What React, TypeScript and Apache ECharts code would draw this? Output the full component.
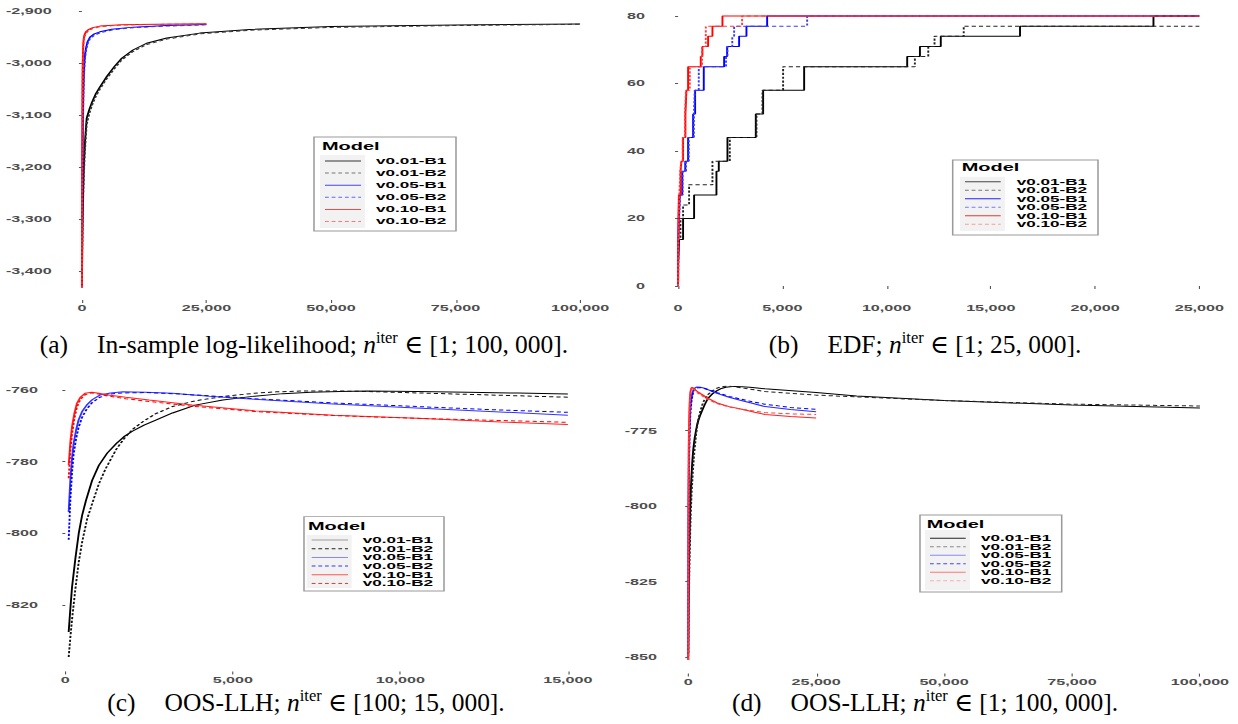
import React, { useEffect, useRef } from 'react';
import * as echarts from 'echarts';

// The plot panels are rendered narrow and widened with a CSS scaleX.
const SX = 1.9;
const PANEL_W = 619;
const PANEL_H = 362;
const SANS = 'Liberation Sans, Arial, Helvetica, sans-serif';
const SERIF = 'Liberation Serif, DejaVu Serif, Times New Roman, serif';

type Pt = [number, number];

const modelNames = ['v0.01-B1', 'v0.01-B2', 'v0.05-B1', 'v0.05-B2', 'v0.10-B1', 'v0.10-B2'];

// (a) In-sample log-likelihood: [iteration, value]
const insV001B1: Pt[] = [[1, -3430], [50, -3370], [120, -3310], [250, -3245], [400, -3195], [600, -3155], [800, -3127], [962, -3106], [1500, -3089], [2000, -3076], [2800, -3059], [3627, -3046], [5000, -3026], [6500, -3007], [8000, -2991], [10240, -2975], [13000, -2962], [17050, -2952], [23670, -2942.5], [33690, -2935.5], [50000, -2930], [75000, -2927], [100000, -2925]];
const insV001B2: Pt[] = [[1, -3432], [50, -3380], [120, -3325], [250, -3262], [400, -3212], [600, -3170], [800, -3140], [962, -3118], [1500, -3097], [2000, -3082], [2800, -3064], [3627, -3050], [5000, -3030], [6500, -3011], [8000, -2994], [10240, -2978], [13000, -2964.5], [17050, -2954], [23670, -2944], [33690, -2937], [50000, -2931.5], [75000, -2928], [100000, -2925.5]];
const insV005B1: Pt[] = [[1, -3430], [25, -3370], [50, -3310], [100, -3225], [150, -3160], [220, -3095], [300, -3050], [400, -3018], [500, -2998], [650, -2982], [800, -2972], [1100, -2960], [1623, -2950], [2500, -2944], [3627, -2940], [6000, -2935], [10300, -2931], [17000, -2928], [25000, -2926]];
const insV005B2: Pt[] = [[1, -3432], [25, -3385], [50, -3330], [100, -3245], [150, -3180], [220, -3112], [300, -3065], [400, -3030], [500, -3008], [650, -2990], [800, -2978], [1100, -2964], [1623, -2953], [2500, -2946.5], [3627, -2942], [6000, -2936.5], [10300, -2932], [17000, -2929], [25000, -2926.5]];
const insV010B1: Pt[] = [[1, -3430], [15, -3340], [30, -3250], [50, -3170], [80, -3100], [110, -3050], [150, -3010], [200, -2985], [250, -2968], [350, -2954], [500, -2946], [800, -2940], [1290, -2936], [2200, -2932], [3627, -2929], [8000, -2926.5], [15000, -2925.3], [25000, -2924.5]];
const insV010B2: Pt[] = [[1, -3432], [15, -3355], [30, -3270], [50, -3190], [80, -3120], [110, -3066], [150, -3022], [200, -2993], [250, -2975], [350, -2959], [500, -2950], [800, -2943], [1290, -2938], [2200, -2933.5], [3627, -2930], [8000, -2927], [15000, -2925.8], [25000, -2925]];

// (b) EDF: [iteration, value] (step changes)
const edfV001B1: Pt[] = [[1, 6.9], [50, 13.8], [241, 20], [769, 27], [1841, 34], [1953, 37], [2369, 44], [3728, 51], [4080, 58], [6047, 65], [10989, 68], [11600, 71], [12600, 74], [16400, 77], [22800, 80], [25000, 80]];
const edfV001B2: Pt[] = [[1, 0], [8, 6.9], [20, 13.8], [114, 20], [241, 24], [529, 30], [1649, 37], [2481, 44], [3760, 51], [4048, 58], [5038, 65], [11357, 68], [12000, 71], [12300, 74], [13700, 77], [25000, 77]];
const edfV005B1: Pt[] = [[1, 0], [10, 13.8], [40, 20], [82, 27], [200, 34], [345, 37], [482, 44], [722, 51], [818, 58], [1233, 65], [2209, 68], [2353, 71], [2928, 74], [3280, 77], [4272, 80], [25000, 80]];
const edfV005B2: Pt[] = [[1, 0], [15, 13.8], [50, 20], [100, 27], [220, 34], [380, 37], [515, 44], [760, 51], [802, 58], [993, 65], [2300, 68], [2369, 71], [2600, 74], [2689, 77], [6191, 80], [25000, 80]];
const edfV010B1: Pt[] = [[1, 0], [3, 6.9], [8, 13.8], [15, 20], [40, 27], [120, 34], [162, 37], [241, 44], [353, 51], [401, 58], [481, 65], [1089, 68], [1169, 71], [1441, 74], [1649, 77], [2129, 80], [25000, 80]];
const edfV010B2: Pt[] = [[1, 0], [4, 6.9], [10, 13.8], [25, 20], [60, 27], [110, 34], [150, 37], [220, 44], [330, 51], [380, 58], [562, 65], [1150, 71], [1329, 77], [3072, 80], [25000, 80]];

// (c), (d) Out-of-sample log-likelihood: [iteration, value]
const oosV001B1: Pt[] = [[1, -849], [30, -842], [60, -835], [100, -827.5], [150, -821], [200, -815], [300, -807], [400, -800], [500, -795], [619, -790.7], [800, -785.2], [1000, -781], [1250, -777.6], [1523, -774.9], [1750, -773], [2000, -771.5], [2350, -769.8], [2701, -768.4], [3200, -766.4], [3879, -764.2], [4700, -762.8], [5646, -761.7], [6500, -761], [7330, -760.6], [8200, -760.4], [9000, -760.3], [10500, -760.4], [12000, -760.6], [13500, -760.85], [15000, -761.1], [25000, -762.3], [32900, -763.5], [50000, -765], [75000, -766.5], [100000, -767.5]];
const oosV001B2: Pt[] = [[1, -851], [30, -845], [60, -840], [100, -834.5], [150, -829], [200, -824], [300, -815.5], [400, -808], [500, -802.5], [650, -796], [836, -790.7], [1000, -786.2], [1200, -782], [1523, -776.5], [1750, -773.6], [2000, -771], [2350, -768.6], [2701, -766.6], [3200, -764.6], [3879, -763], [4700, -761.8], [5646, -760.9], [6300, -760.5], [7000, -760.3], [8000, -760.25], [9000, -760.4], [10500, -760.8], [12000, -761.2], [13500, -761.6], [15000, -762], [25000, -763.2], [50000, -765], [75000, -766.2], [100000, -766.8]];
const oosV005B1: Pt[] = [[1, -849], [15, -835], [30, -822], [50, -810], [75, -801], [100, -794], [150, -785], [200, -779], [247, -774.9], [320, -771.2], [394, -768.4], [500, -766], [639, -764.2], [800, -762.7], [1031, -761.4], [1350, -760.8], [1720, -760.5], [2400, -760.6], [3193, -760.9], [4300, -761.7], [5646, -762.6], [8000, -763.9], [10000, -764.8], [12500, -765.9], [15000, -767], [20000, -768], [25000, -768.7]];
const oosV005B2: Pt[] = [[1, -850], [15, -840], [30, -830], [50, -818], [75, -809], [100, -801.8], [150, -790.5], [200, -783], [247, -778], [320, -773.6], [394, -770.5], [500, -767.6], [639, -765.3], [800, -763.5], [1031, -762], [1350, -761.1], [1720, -760.8], [2400, -760.7], [3193, -761], [4300, -761.6], [5646, -762.4], [8000, -763.6], [10000, -764.4], [12500, -765.4], [15000, -766.2], [20000, -767.3], [25000, -767.9]];
const oosV010B1: Pt[] = [[1, -851], [15, -830], [30, -812], [50, -798], [75, -788], [100, -781], [150, -774.5], [200, -770.2], [270, -766.5], [345, -763.7], [450, -762], [590, -760.9], [786, -760.6], [1000, -760.9], [1228, -761.3], [1800, -762], [2500, -762.8], [3782, -764.2], [5646, -765.8], [8000, -767], [10500, -767.9], [13000, -768.9], [15000, -769.6], [20000, -770.3], [25000, -770.8]];
const oosV010B2: Pt[] = [[1, -851], [15, -833], [30, -816], [50, -801], [75, -791], [100, -784.6], [150, -777], [200, -772.3], [270, -768], [345, -764.8], [450, -762.6], [590, -761.3], [786, -760.8], [1000, -761.1], [1228, -761.6], [1800, -762.4], [2500, -763.2], [3782, -764.5], [5646, -766], [8000, -767.1], [10500, -767.9], [13000, -768.5], [15000, -769], [20000, -769.4], [25000, -769.6]];

// Axis ticks
const ticksX100k = [0, 25000, 50000, 75000, 100000];
const ticksX25k = [0, 5000, 10000, 15000, 20000, 25000];
const ticksX15k = [0, 5000, 10000, 15000];
const ticksYIns = [-3400, -3300, -3200, -3100, -3000, -2900];
const ticksYEdf = [0, 20, 40, 60, 80];
const ticksYOosC = [-820, -800, -780, -760];
const ticksYOosD = [-850, -825, -800, -775];

const inRange = (d: Pt[], lo: number, hi: number) => d.filter(([x]) => x >= lo && x <= hi);

interface SeriesSpec { data: Pt[]; color: string; dashed?: boolean }
interface LegendSpec {
  box: [number, number, number, number];
  title: [number, number];
  keyBg: [number, number, number, number];
  lineX: [number, number];
  rowY0: number;
  rowStep: number;
  labelX: number;
  colors: string[];
}
interface PanelSpec {
  left: number;
  top: number;
  grid: [number, number, number, number];
  x: [number, number];
  y: [number, number];
  xTicks: number[];
  yTicks: number[];
  yLabelMargin: number;
  step?: boolean;
  series: SeriesSpec[];
  legend: LegendSpec;
  caption: { tag: string; text: string; range: string; cx: number; cy: number };
}

const fmt = (v: number) => v.toLocaleString('en-US');

function legendElements(l: LegendSpec) {
  const els: any[] = [];
  const [bx0, by0, bx1, by1] = l.box;
  els.push({ type: 'rect', z: 100, silent: true, shape: { x: bx0 / SX, y: by0, width: (bx1 - bx0) / SX, height: by1 - by0 }, style: { fill: '#ffffff', stroke: '#9a9a9a', lineWidth: 0.8 } });
  const [kx0, ky0, kx1, ky1] = l.keyBg;
  els.push({ type: 'rect', z: 101, silent: true, shape: { x: kx0 / SX, y: ky0, width: (kx1 - kx0) / SX, height: ky1 - ky0 }, style: { fill: '#f2f2f2' } });
  els.push({ type: 'text', z: 102, silent: true, x: l.title[0] / SX, y: l.title[1], style: { text: 'Model', fill: '#000', fontFamily: SANS, fontWeight: 'bold', fontSize: 10.5, align: 'left', verticalAlign: 'middle', textAlign: 'left', textVerticalAlign: 'middle' } });
  modelNames.forEach((name, i) => {
    const y = l.rowY0 + i * l.rowStep;
    const dashed = i % 2 === 1;
    els.push({ type: 'line', z: 102, silent: true, shape: { x1: l.lineX[0] / SX, y1: y, x2: l.lineX[1] / SX, y2: y }, style: { stroke: l.colors[i], lineWidth: 1, lineDash: dashed ? [2, 1.5] : null } });
    els.push({ type: 'text', z: 102, silent: true, x: l.labelX / SX, y, style: { text: name, fill: '#000', fontFamily: SANS, fontWeight: 'bold', fontSize: 9, align: 'left', verticalAlign: 'middle', textAlign: 'left', textVerticalAlign: 'middle' } });
  });
  return els;
}

function captionElement(c: PanelSpec['caption']) {
  const base = { fontFamily: SERIF, fontSize: 25.5, fill: '#000', lineHeight: 30 };
  return {
    type: 'text', silent: true, x: c.cx / SX, y: c.cy, scaleX: 1 / SX,
    style: {
      text: `{tag|${c.tag}}{t|${c.text} }{i|n}{s|iter}{t| \u2208 ${c.range}.}`,
      align: 'center', verticalAlign: 'middle', textAlign: 'center', textVerticalAlign: 'middle',
      fill: '#000',
      rich: {
        tag: { ...base, padding: [0, 29, 0, 0] },
        t: { ...base },
        i: { ...base, fontStyle: 'italic' },
        s: { fontFamily: SERIF, fontSize: 16.5, fill: '#000', lineHeight: 16, verticalAlign: 'top' },
      },
    },
  };
}

function buildOption(p: PanelSpec) {
  const [gl, gt, gr, gb] = p.grid;
  const axisFont = { fontFamily: SANS, fontWeight: 'bold', fontSize: 8.5, color: '#4d4d4d' };
  return {
    animation: false,
    grid: { left: gl / SX, top: gt, width: (gr - gl) / SX, height: gb - gt },
    xAxis: {
      type: 'value', min: p.x[0], max: p.x[1],
      axisLine: { show: false }, splitLine: { show: false },
      axisTick: { show: true, length: 3, customValues: p.xTicks, lineStyle: { color: '#555', width: 0.6 } },
      axisLabel: { customValues: p.xTicks, formatter: fmt, margin: 4, ...axisFont },
    },
    yAxis: {
      type: 'value', min: p.y[0], max: p.y[1],
      axisLine: { show: false }, splitLine: { show: false },
      axisTick: { show: true, length: 3 / SX, customValues: p.yTicks, lineStyle: { color: '#555', width: 1 } },
      axisLabel: { customValues: p.yTicks, formatter: fmt, margin: p.yLabelMargin / SX, ...axisFont },
    },
    series: p.series.map((s, i) => ({
      type: 'line', name: modelNames[i], data: s.data,
      showSymbol: false, symbol: 'none', silent: true,
      smooth: false,
      step: p.step ? 'end' : false,
      lineStyle: { color: s.color, width: 1, type: s.dashed ? [2.2, 1.6] : 'solid' },
    })),
    graphic: { elements: [...legendElements(p.legend), captionElement(p.caption)] },
  };
}

const panels: PanelSpec[] = [
  {
    left: 0, top: 0,
    grid: [57, 10.5, 605, 300], x: [-5000, 105000], y: [-3456, -2899],
    xTicks: ticksX100k, yTicks: ticksYIns, yLabelMargin: 5.3,
    series: [
      { data: insV001B1, color: '#000000' },
      { data: insV001B2, color: '#333333', dashed: true },
      { data: insV005B1, color: '#0000ff' },
      { data: insV005B2, color: '#3030ff', dashed: true },
      { data: insV010B1, color: '#ff0000' },
      { data: insV010B2, color: '#ff3030', dashed: true },
    ],
    legend: { box: [314, 137, 456, 231], title: [322, 146], keyBg: [320, 155, 365, 228], lineX: [325, 361], rowY0: 161, rowStep: 12.1, labelX: 376, colors: ['#333333', '#777777', '#4444ff', '#6666ff', '#ff4444', '#ff7777'] },
    caption: { tag: '(a)', text: 'In-sample log-likelihood;', range: '[1; 100, 000]', cx: 304, cy: 344 },
  },
  {
    left: PANEL_W, top: 0, step: true,
    grid: [33, 2.5, 606.4, 299.5], x: [-1250, 26250], y: [-4, 84],
    xTicks: ticksX25k, yTicks: ticksYEdf, yLabelMargin: 7,
    series: [
      { data: edfV001B1, color: '#000000' },
      { data: edfV001B2, color: '#222222', dashed: true },
      { data: edfV005B1, color: '#0000ff' },
      { data: edfV005B2, color: '#3a3aff', dashed: true },
      { data: edfV010B1, color: '#ff0000' },
      { data: edfV010B2, color: '#ff3a3a', dashed: true },
    ],
    legend: { box: [333.7, 160, 479, 235], title: [342.7, 167.7], keyBg: [341, 176.7, 386, 231], lineX: [346, 381.7], rowY0: 181.7, rowStep: 8.5, labelX: 397.7, colors: ['#444444', '#777777', '#2222ff', '#7777ff', '#ee3333', '#ff9999'] },
    caption: { tag: '(b)', text: 'EDF;', range: '[1; 25, 000]', cx: 306, cy: 344 },
  },
  {
    left: 0, top: PANEL_H,
    grid: [36, 15.5, 592.8, 309.4], x: [-645, 15745], y: [-838.5, -756.5],
    xTicks: ticksX15k, yTicks: ticksYOosC, yLabelMargin: 5.7,
    series: [
      { data: inRange(oosV001B1, 100, 15000), color: '#000000' },
      { data: inRange(oosV001B2, 100, 15000), color: '#111111', dashed: true },
      { data: inRange(oosV005B1, 100, 15000), color: '#3333ff' },
      { data: inRange(oosV005B2, 100, 15000), color: '#0000ff', dashed: true },
      { data: inRange(oosV010B1, 100, 15000), color: '#ff2020' },
      { data: inRange(oosV010B2, 100, 15000), color: '#ff0000', dashed: true },
    ],
    legend: { box: [304, 154.7, 444, 229], title: [308, 164.7], keyBg: [306.7, 173, 351.7, 226], lineX: [311.7, 348], rowY0: 178, rowStep: 8.7, labelX: 362.7, colors: ['#999999', '#222222', '#8888ff', '#3333ff', '#ff5555', '#ff3333'] },
    caption: { tag: '(c)', text: 'OOS-LLH;', range: '[100; 15, 000]', cx: 306, cy: 340 },
  },
  {
    left: PANEL_W, top: PANEL_H,
    grid: [33.3, 10.5, 606.5, 311.6], x: [-5000, 105000], y: [-855.5, -755.7],
    xTicks: ticksX100k, yTicks: ticksYOosD, yLabelMargin: 5.6,
    series: [
      { data: oosV001B1, color: '#000000' },
      { data: oosV001B2, color: '#222222', dashed: true },
      { data: oosV005B1, color: '#2a2aff' },
      { data: oosV005B2, color: '#0000ff', dashed: true },
      { data: oosV010B1, color: '#ff2020' },
      { data: oosV010B2, color: '#ff4040', dashed: true },
    ],
    legend: { box: [301, 153, 442.7, 230], title: [307.7, 162], keyBg: [306, 168, 351, 228], lineX: [311, 346.7], rowY0: 176.3, rowStep: 8.5, labelX: 362, colors: ['#222222', '#888888', '#8888ff', '#4444ff', '#ff7777', '#ffaaaa'] },
    caption: { tag: '(d)', text: 'OOS-LLH;', range: '[1; 100, 000]', cx: 306, cy: 340 },
  },
];

function Panel({ spec }: { spec: PanelSpec }) {
  const ref = useRef<HTMLDivElement>(null);
  useEffect(() => {
    if (!ref.current) return;
    const chart = echarts.init(ref.current, null, { renderer: 'svg' });
    chart.setOption(buildOption(spec) as any);
    return () => chart.dispose();
  }, [spec]);
  return (
    <div
      style={{
        position: 'absolute', left: spec.left, top: spec.top,
        width: PANEL_W / SX, height: PANEL_H,
        transform: `scaleX(${SX})`, transformOrigin: '0 0',
      }}
    >
      <div ref={ref} style={{ width: '100%', height: '100%' }} />
    </div>
  );
}

export default function App() {
  return (
    <div style={{ position: 'absolute', left: 0, top: 0, width: 1238, height: 724, background: '#ffffff', overflow: 'hidden' }}>
      {panels.map((p, i) => <Panel key={i} spec={p} />)}
    </div>
  );
}
